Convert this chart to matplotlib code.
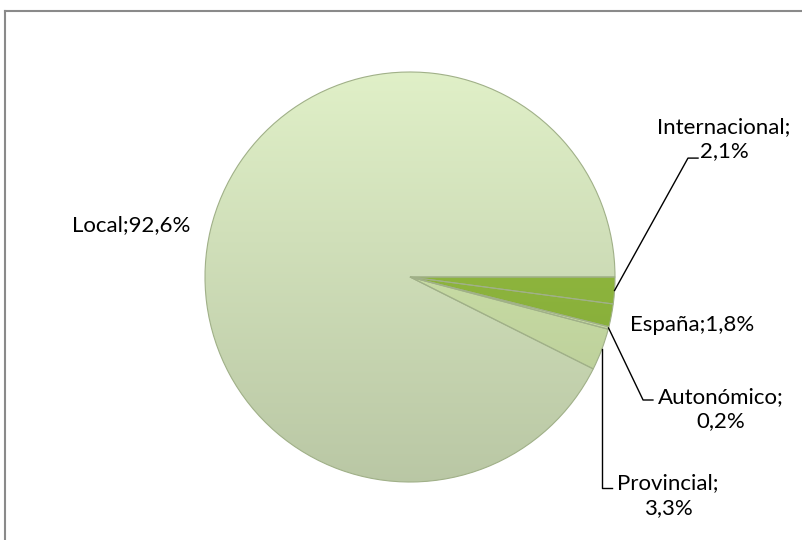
import numpy as np
import matplotlib.pyplot as plt
from matplotlib.colors import to_rgb
from matplotlib.lines import Line2D

# data (clockwise from 3 o'clock)
labels = ['Internacional', 'España', 'Autonómico', 'Provincial', 'Local']
values = [2.1, 1.8, 0.2, 3.3, 92.6]
colors = ['#8BB33A', '#8BB33A', '#C9DCA6', '#C6DAA2', '#CCDBB5']

# label layout (data coords, pie radius = 1)
text_pos = {'Internacional': (1.532, 0.673), 'España': (1.376, -0.234),
            'Autonómico': (1.517, -0.644), 'Provincial': (1.259, -1.068),
            'Local': (-1.361, 0.254)}
line_break = {'Internacional': True, 'España': False, 'Autonómico': True,
              'Provincial': True, 'Local': False}
elbows = {'Internacional': [(1.356, 0.58), (1.405, 0.58)],
          'Autonómico': [(1.137, -0.60), (1.185, -0.60)],
          'Provincial': [(None, -1.029), (0.985, -1.029)]}

W, H = 803, 540
fig = plt.figure(figsize=(W / 100, H / 100), dpi=100)

# frame of the chart area
fig.add_artist(Line2D([5.5 / W, 1], [1 - 10.5 / H, 1 - 10.5 / H], color='#8a8a8a', lw=1.5))
fig.add_artist(Line2D([5.5 / W, 5.5 / W], [0, 1 - 10.5 / H], color='#8a8a8a', lw=1.5))

cx, cy, r = 410, 277, 205
ax = fig.add_axes([(cx - r) / W, (H - cy - r) / H, 2 * r / W, 2 * r / H])
wedges, _ = ax.pie(values, colors=colors, startangle=0, counterclock=False,
                   radius=1, wedgeprops=dict(edgecolor='#A0B088', linewidth=0.8))
ax.set_aspect('equal')
ax.axis('off')

# soft vertical gradient inside each wedge
yy = np.linspace(1, 0, 256)[:, None, None]
for w, c in zip(wedges, colors):
    base = np.array(to_rgb(c))
    light = np.clip(base * 1.06 + 0.03, 0, 1)
    dark = base * 0.91
    grad = dark + (light - dark) * yy
    grad = np.repeat(grad, 2, axis=1)
    im = ax.imshow(grad, extent=[-1, 1, -1, 1], origin='upper', zorder=w.get_zorder() + 0.1,
                   aspect='auto', interpolation='bilinear')
    im.set_clip_path(w)
    w.set_facecolor('none')
    w.set_zorder(w.get_zorder() + 0.2)

ax.set_xlim(-1, 1)
ax.set_ylim(-1, 1)

font = dict(family='Lato', fontsize=16, color='#000000')
for w, lab, v in zip(wedges, labels, values):
    pct = f'{v:.1f}'.replace('.', ',') + '%'
    sep = ';\n' if line_break[lab] else ';'
    tx, ty = text_pos[lab]
    ax.text(tx, ty, lab + sep + pct, ha='center', va='center', linespacing=1.3,
            clip_on=False, **font)
    if lab in elbows:
        ang = np.deg2rad((w.theta1 + w.theta2) / 2)
        ax_, ay_ = np.cos(ang), np.sin(ang)
        (ex, ey), (sx, sy) = elbows[lab]
        if ex is None:
            ex = ax_
        ax.plot([ax_, ex, sx], [ay_, ey, sy], color='black', lw=1.0, clip_on=False, zorder=5)

fig.savefig('out.png', dpi=100)
